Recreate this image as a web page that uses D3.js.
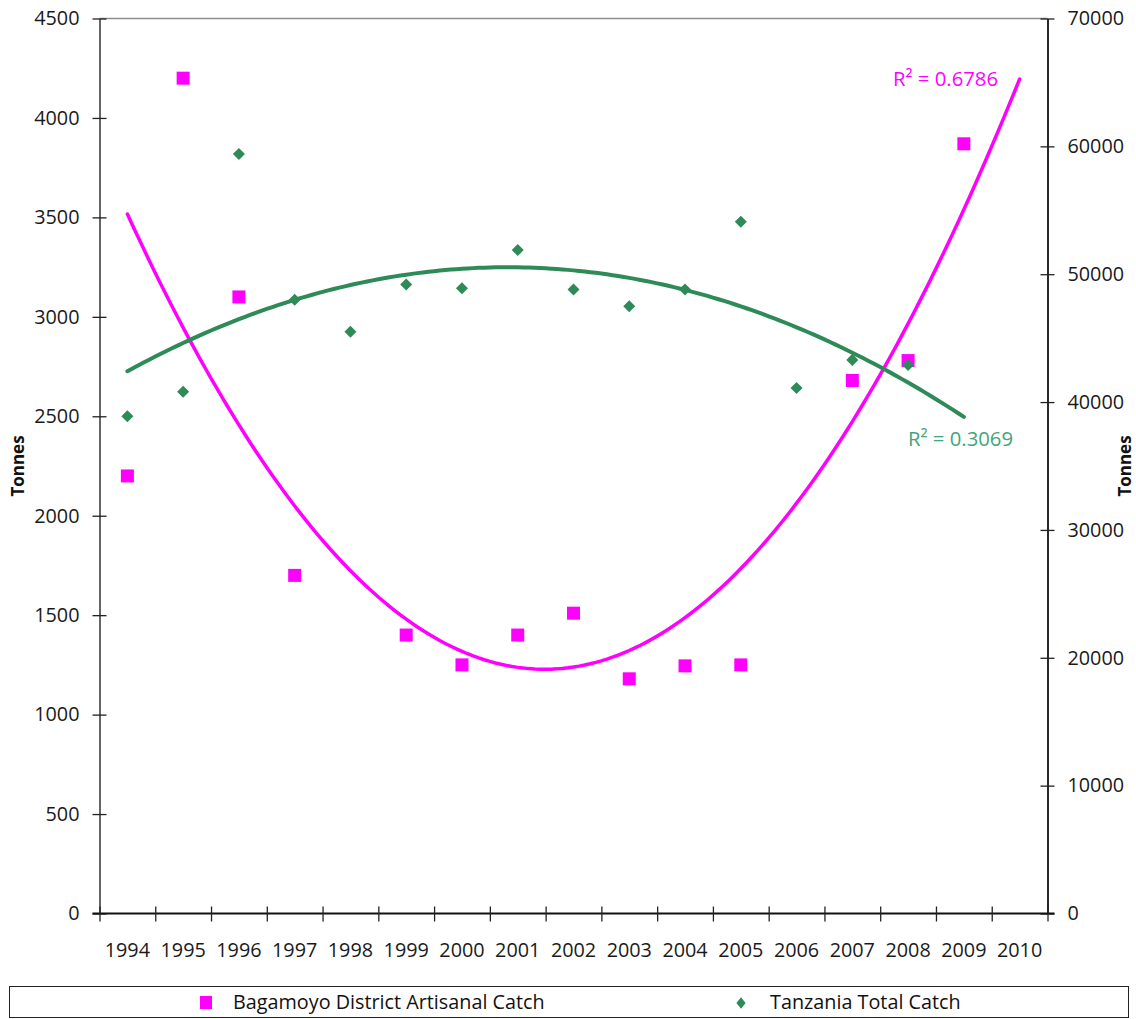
<!DOCTYPE html>
<html>
<head>
<meta charset="utf-8">
<script src="https://cdn.jsdelivr.net/npm/d3@7"></script>
<style>
  body { margin: 0; background: #fff; }
  svg { font-family: "Open Sans", sans-serif; }
</style>
</head>
<body>
<svg id="chart" width="1136" height="1019"></svg>
<script>
// years on the category axis
var years = ["1994","1995","1996","1997","1998","1999","2000","2001","2002",
             "2003","2004","2005","2006","2007","2008","2009","2010"];
// Bagamoyo District Artisanal Catch (left axis, tonnes), null = no value
var bagamoyo = [2200, 4200, 3100, 1700, null, 1400, 1250, 1400, 1510,
                1180, 1245, 1250, null, 2680, 2780, 3870, null];
// Tanzania Total Catch (right axis, tonnes)
var tanzania = [38900, 40800, 59400, 48000, 45500, 49200, 48900, 51900, 48800,
                47500, 48800, 54100, 41100, 43300, 42900, null];
var leftTicks = [0,500,1000,1500,2000,2500,3000,3500,4000,4500];
var rightTicks = [0,10000,20000,30000,40000,50000,60000,70000];
var r2Bagamoyo = "R² = 0.6786";
var r2Tanzania = "R² = 0.3069";

var svg = d3.select("#chart");
var L = 99.5, R = 1047.5, T = 18.5, B = 913.5;
var tickFont = 19.8;

var x = d3.scaleBand().domain(years).range([L, R]).padding(0);
var xi = d3.scaleLinear().domain([0, years.length]).range([L, R]);
var yL = d3.scaleLinear().domain([0, 4500]).range([B, T]);
var yR = d3.scaleLinear().domain([0, 70000]).range([B, T]);

// quadratic least squares fit like the excel trendline
function polyfit(vals) {
  var pts = [];
  vals.forEach(function(v, i) { if (v != null) pts.push([i, v]); });
  var s = [0,0,0,0,0], t = [0,0,0];
  pts.forEach(function(p) {
    var xp = 1;
    for (var k = 0; k < 5; k++) { s[k] += xp; if (k < 3) t[k] += xp * p[1]; xp *= p[0]; }
  });
  var M = [[s[0],s[1],s[2],t[0]],[s[1],s[2],s[3],t[1]],[s[2],s[3],s[4],t[2]]];
  for (var c = 0; c < 3; c++) {
    for (var r = c + 1; r < 3; r++) {
      var f = M[r][c] / M[c][c];
      for (var k = c; k < 4; k++) M[r][k] -= f * M[c][k];
    }
  }
  var co = [0,0,0];
  for (var r = 2; r >= 0; r--) {
    var sum = M[r][3];
    for (var k = r + 1; k < 3; k++) sum -= M[r][k] * co[k];
    co[r] = sum / M[r][r];
  }
  return function(xv) { return co[0] + co[1] * xv + co[2] * xv * xv; };
}

// frame: top border
svg.append("line").attr("x1", L).attr("x2", R).attr("y1", T).attr("y2", T)
  .attr("stroke", "#8c8c8c").attr("stroke-width", 1.5);

// left axis
var gl = svg.append("g").attr("transform", "translate(" + L + ",0)")
  .call(d3.axisLeft(yL).tickValues(leftTicks).tickFormat(d3.format("d")).tickSize(0).tickPadding(20));
gl.select(".domain").attr("stroke", "#555").attr("stroke-width", 1.8);
gl.selectAll(".tick line").attr("x1", -7).attr("x2", 7).attr("stroke", "#222").attr("stroke-width", 1.3);
gl.selectAll(".tick text").attr("font-size", tickFont).attr("fill", "#1a1a1a")
  .attr("font-family", "Open Sans");

// right axis
var gr = svg.append("g").attr("transform", "translate(" + R + ",0)")
  .call(d3.axisRight(yR).tickValues(rightTicks).tickFormat(d3.format("d")).tickSize(0).tickPadding(20));
gr.select(".domain").attr("stroke", "#111").attr("stroke-width", 1.8);
gr.selectAll(".tick line").attr("x1", -7).attr("x2", 7).attr("stroke", "#222").attr("stroke-width", 1.3);
gr.selectAll(".tick text").attr("font-size", tickFont).attr("fill", "#1a1a1a")
  .attr("font-family", "Open Sans");

// bottom axis: ticks on category boundaries, labels at centres
var gb = svg.append("g").attr("transform", "translate(0," + B + ")")
  .call(d3.axisBottom(xi).tickValues(d3.range(years.length + 1)).tickSize(0).tickFormat(""));
gb.select(".domain").attr("d", "M" + (L - 7) + ",0H" + (R + 7)).attr("stroke", "#111").attr("stroke-width", 1.8);
gb.selectAll(".tick line").attr("y1", -7).attr("y2", 8).attr("stroke", "#222").attr("stroke-width", 1.3);

svg.append("g").selectAll("text").data(years).join("text")
  .attr("x", function(d) { return x(d) + x.bandwidth() / 2; })
  .attr("y", B + 43.5)
  .attr("text-anchor", "middle")
  .attr("font-size", tickFont).attr("fill", "#1a1a1a")
  .text(function(d) { return d; });

// axis titles
svg.append("text").attr("transform", "translate(24,466) rotate(-90)")
  .attr("text-anchor", "middle").attr("font-weight", "bold").attr("font-size", 17)
  .attr("fill", "#111").text("Tonnes");
svg.append("text").attr("transform", "translate(1131,466) rotate(-90)")
  .attr("text-anchor", "middle").attr("font-weight", "bold").attr("font-size", 17)
  .attr("fill", "#111").text("Tonnes");

var cx = function(i) { return x(years[i]) + x.bandwidth() / 2; };

// trend lines
var fitB = polyfit(bagamoyo);
var fitT = polyfit(tanzania);
var lineB = d3.line().x(function(d) { return xi(d + 0.5); }).y(function(d) { return yL(fitB(d)); });
var lineT = d3.line().x(function(d) { return xi(d + 0.5); }).y(function(d) { return yR(fitT(d)); });

svg.append("path").datum(d3.range(0, bagamoyo.length - 1 + 0.001, 0.1))
  .attr("d", lineB).attr("fill", "none").attr("stroke", "#ff00ff").attr("stroke-width", 3.5)
  .attr("stroke-linecap", "round");
svg.append("path").datum(d3.range(0, tanzania.length - 1 + 0.001, 0.1))
  .attr("d", lineT).attr("fill", "none").attr("stroke", "#2e8b57").attr("stroke-width", 4)
  .attr("stroke-linecap", "round");

// markers
svg.append("g").selectAll("rect")
  .data(bagamoyo.map(function(v, i) { return {i: i, v: v}; }).filter(function(d) { return d.v != null; }))
  .join("rect")
  .attr("x", function(d) { return cx(d.i) - 6.5; })
  .attr("y", function(d) { return yL(d.v) - 6.5; })
  .attr("width", 13).attr("height", 13).attr("fill", "#ff00ff");

var diamond = d3.symbol().type(d3.symbolDiamond2).size(92);
svg.append("g").selectAll("path")
  .data(tanzania.map(function(v, i) { return {i: i, v: v}; }).filter(function(d) { return d.v != null; }))
  .join("path")
  .attr("transform", function(d) { return "translate(" + cx(d.i) + "," + yR(d.v) + ")"; })
  .attr("d", diamond).attr("fill", "#2e8b57");

// R² labels
svg.append("text").attr("x", 893).attr("y", 86).attr("font-size", 20.3)
  .attr("fill", "#ff00ff").text(r2Bagamoyo);
svg.append("text").attr("x", 908).attr("y", 446).attr("font-size", 20.3)
  .attr("fill", "#3fa57a").text(r2Tanzania);

// legend
svg.append("rect").attr("x", 9.5).attr("y", 986.5).attr("width", 1119).attr("height", 31)
  .attr("fill", "#fff").attr("stroke", "#222").attr("stroke-width", 1);
svg.append("rect").attr("x", 200).attr("y", 996).attr("width", 12).attr("height", 13).attr("fill", "#ff00ff");
svg.append("text").attr("x", 233).attr("y", 1009).attr("font-size", 19.8).attr("fill", "#111")
  .text("Bagamoyo District Artisanal Catch");
svg.append("path")
  .attr("d", d3.symbol().type(d3.symbolDiamond2).size(60)).attr("fill", "#2e8b57")
  .attr("transform", "translate(741,1003) scale(0.95,1.2)");
svg.append("text").attr("x", 770).attr("y", 1009).attr("font-size", 19.8).attr("fill", "#111")
  .text("Tanzania Total Catch");
</script>
</body>
</html>
